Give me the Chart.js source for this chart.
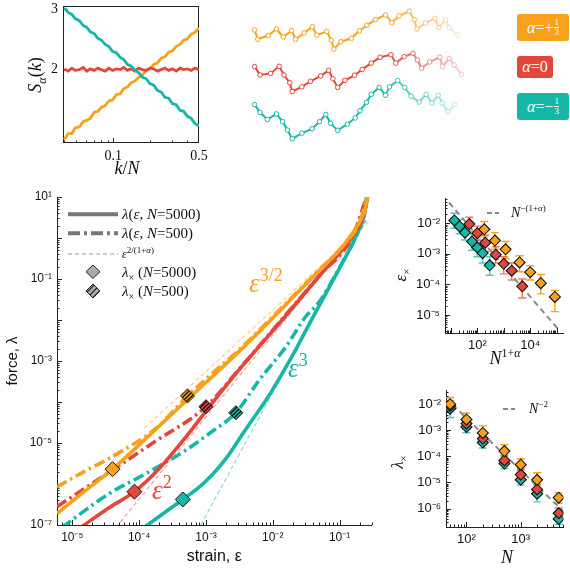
<!DOCTYPE html>
<html>
<head>
<meta charset="utf-8">
<script src="https://cdn.jsdelivr.net/npm/chart.js@4.4.1/dist/chart.umd.min.js"></script>
<style>
  body { margin: 0; background: #fff; }
  #page { position: relative; width: 570px; height: 570px; overflow: hidden; font-family: "Liberation Serif", serif; color: #111; }
  canvas { position: absolute; }
  .tx { position: absolute; white-space: nowrap; line-height: 1; }
  .tag { position: absolute; border-radius: 3px; color: #fff; display: flex; align-items: center; justify-content: center; font-size: 16px; }
  .fr { display: inline-flex; flex-direction: column; font-size: 9px; line-height: 9px; margin-left: 1px; vertical-align: middle; text-align: center; }
  .fr span:first-child { border-bottom: 1px solid #fff; }
  .lg { position: absolute; left: 122px; height: 16px; line-height: 16px; font-size: 15px; white-space: nowrap; }
  .rot { position: absolute; text-align: center; transform: rotate(-90deg); white-space: nowrap; }
  sub, sup { line-height: 0; }
</style>
</head>
<body>
<div id="page">
  <canvas id="spec" width="215" height="180" style="left:0;top:0"></canvas>
  <canvas id="chains" width="240" height="150" style="left:240px;top:0"></canvas>
  <canvas id="main" width="380" height="390" style="left:0;top:180px"></canvas>
  <canvas id="epsx" width="180" height="190" style="left:390px;top:180px"></canvas>
  <canvas id="lamx" width="180" height="190" style="left:390px;top:380px"></canvas>

  <div class="tag" style="left:517px;top:14px;width:52px;height:27px;background:#f9a11b"><i>α</i>=+<span class="fr"><span>1</span><span>3</span></span></div>
  <div class="tag" style="left:517px;top:56px;width:36px;height:22px;background:#e3463b"><i>α</i>=0</div>
  <div class="tag" style="left:517px;top:93px;width:52px;height:27px;background:#16b7a6"><i>α</i>=−<span class="fr"><span>1</span><span>3</span></span></div>

  <div class="rot" style="left:5px;top:63px;width:60px;height:24px;line-height:24px;font-size:18px"><i>S</i><sub style="font-size:12px"><i>α</i></sub>(<i>k</i>)</div>
  <div class="tx" style="left:97px;top:159px;width:60px;text-align:center;font-size:18px"><i>k</i>/<i>N</i></div>

  <svg style="position:absolute;left:66px;top:205px" width="56" height="96">
    <defs>
      <pattern id="hp" width="4" height="4" patternUnits="userSpaceOnUse" patternTransform="rotate(45)">
        <rect width="4" height="4" fill="#aaa"/><line x1="0" y1="0" x2="0" y2="4" stroke="#111" stroke-width="2"/>
      </pattern>
    </defs>
    <line x1="2" y1="9.3" x2="52" y2="9.3" stroke="#777" stroke-width="4"/>
    <line x1="2" y1="28.3" x2="52" y2="28.3" stroke="#777" stroke-width="4" stroke-dasharray="12 4 3 4"/>
    <line x1="2" y1="49" x2="52" y2="49" stroke="#999" stroke-width="1.2" stroke-dasharray="4 3"/>
    <polygon points="27,60 34,66.7 27,73.4 20,66.7" fill="#aaa" stroke="#222" stroke-width="1"/>
    <polygon points="27,79 34,86 27,93 20,86" fill="url(#hp)" stroke="#222" stroke-width="1"/>
  </svg>
  <div class="lg" style="top:206px"><i>λ</i>(<i>ε</i>, <i>N</i>=5000)</div>
  <div class="lg" style="top:225px"><i>λ</i>(<i>ε</i>, <i>N</i>=500)</div>
  <div class="lg" style="top:246px;font-size:12px"><i>ε</i><sup style="font-size:9px">2/(1+<i>α</i>)</sup></div>
  <div class="lg" style="top:264px"><i>λ</i><sub style="font-size:10px">×</sub> (<i>N</i>=5000)</div>
  <div class="lg" style="top:283px"><i>λ</i><sub style="font-size:10px">×</sub> (<i>N</i>=500)</div>

  <div class="tx" style="left:249px;top:270px;font-size:27px;color:#f9a11b"><i>ε</i><span style="font-size:18px;position:relative;top:-11px">3/2</span></div>
  <div class="tx" style="left:288px;top:355px;font-size:27px;color:#16b7a6"><i>ε</i><span style="font-size:18px;position:relative;top:-11px">3</span></div>
  <div class="tx" style="left:152px;top:477px;font-size:27px;color:#e3463b"><i>ε</i><span style="font-size:18px;position:relative;top:-11px">2</span></div>

  <svg style="position:absolute;left:487px;top:209px" width="12" height="8"><line x1="0" y1="4" x2="12" y2="4" stroke="#888" stroke-width="2" stroke-dasharray="5 3"/></svg>
  <div class="tx" style="left:511px;top:206px;font-size:14px"><i>N</i><sup style="font-size:9px">−(1+<i>α</i>)</sup></div>
  <div class="rot" style="left:371px;top:264px;width:60px;height:22px;line-height:22px;font-size:17px"><i>ε</i><sub style="font-size:11px">×</sub></div>
  <div class="tx" style="left:465px;top:349px;width:80px;text-align:center;font-size:18px"><i>N</i><sup style="font-size:12px">1+<i>α</i></sup></div>

  <svg style="position:absolute;left:503px;top:405px" width="12" height="8"><line x1="0" y1="4" x2="12" y2="4" stroke="#888" stroke-width="2" stroke-dasharray="5 3"/></svg>
  <div class="tx" style="left:529px;top:402px;font-size:14px"><i>N</i><sup style="font-size:9px">−2</sup></div>
  <div class="rot" style="left:368px;top:451px;width:60px;height:22px;line-height:22px;font-size:17px"><i>λ</i><sub style="font-size:11px">×</sub></div>
  <div class="tx" style="left:477px;top:548px;width:60px;text-align:center;font-size:18px"><i>N</i></div>
</div>

<script>
// ---- colours
const C_OR = '#f9a11b', C_RD = '#e3463b', C_CY = '#16b7a6';

// ---- top-left: S_alpha(k) vs k/N
const kOverN = [0.040, 0.043, 0.046, 0.049, 0.053, 0.057, 0.061, 0.065, 0.070, 0.075, 0.080, 0.086, 0.092, 0.099, 0.106, 0.114, 0.122, 0.131, 0.140, 0.150, 0.161, 0.173, 0.186, 0.199, 0.214, 0.229, 0.246, 0.264, 0.283, 0.304, 0.326, 0.350, 0.375, 0.402, 0.432, 0.463, 0.500];
const sOrange = [1.25, 1.30, 1.30, 1.35, 1.36, 1.41, 1.42, 1.44, 1.50, 1.51, 1.55, 1.57, 1.62, 1.63, 1.69, 1.70, 1.76, 1.78, 1.83, 1.85, 1.90, 1.93, 1.99, 2.01, 2.07, 2.09, 2.16, 2.18, 2.25, 2.27, 2.34, 2.37, 2.44, 2.46, 2.54, 2.57, 2.65];
const sRed = [2.01, 1.98, 2.02, 1.99, 2.00, 2.03, 1.98, 2.01, 1.99, 2.02, 2.00, 1.98, 2.02, 1.99, 2.01, 2.00, 2.03, 1.99, 2.01, 1.98, 2.02, 2.00, 1.99, 2.02, 2.01, 1.98, 2.00, 2.02, 1.99, 2.01, 1.98, 2.02, 2.00, 2.01, 1.99, 2.02, 2.00];
const sCyan = [3.03, 2.94, 2.90, 2.82, 2.78, 2.69, 2.66, 2.58, 2.55, 2.47, 2.44, 2.37, 2.34, 2.26, 2.24, 2.17, 2.14, 2.07, 2.05, 1.99, 1.96, 1.90, 1.88, 1.82, 1.80, 1.74, 1.72, 1.66, 1.65, 1.59, 1.58, 1.52, 1.51, 1.46, 1.44, 1.39, 1.37];

// ---- top-middle: chain snapshots (bead x along chain, bead height)
const chainOrangeX = [0, 3.3, 14.3, 22.7, 30, 38.7, 42.7, 51.7, 60.3, 65, 75.3, 80, 82.7, 90, 101, 109.3, 117.3, 126, 136.7, 143.3, 150.7, 161.3, 166.7, 169.3, 178.3, 188.3, 192.3, 199.3, 203.3, 212.3];
const chainOrangeY = [123.3, 113.3, 117.3, 124.3, 115.7, 122.7, 113.3, 120, 126.7, 117.7, 121.7, 112.3, 102.7, 110.7, 114.3, 122.3, 128.3, 134.3, 139.3, 131, 138.3, 143.3, 134.3, 124.3, 130.7, 135.7, 125.7, 134, 126, 117.7];
const chainRedX = [0, 5.7, 16.7, 25.7, 30.7, 36.7, 39.3, 49.3, 58.3, 69, 77.3, 81.7, 86.7, 94.3, 104.3, 112.3, 121.7, 131, 142.3, 147.3, 156, 165.3, 170, 174.3, 182.7, 193.3, 196, 203.3, 208.3, 216];
const chainRedY = [84, 75, 76.7, 84.3, 75, 66.7, 57.3, 62.3, 68.3, 74, 80, 71, 61.7, 69.3, 74.7, 81, 87.7, 94, 96.7, 87.7, 94.7, 98.3, 91, 82.3, 89, 94, 84.3, 92.7, 85.7, 75.7];
const chainCyanX = [0, 5.7, 13.3, 22.7, 29.3, 34.3, 39.3, 49.3, 60, 67.7, 74.3, 79.3, 86.7, 96.7, 105, 110, 116.7, 121.7, 130, 136.7, 140.7, 149.3, 156.7, 163.3, 171.7, 179, 185, 191.7, 195.7, 201.7, 209];
const chainCyanY = [43.3, 35, 27.3, 33.3, 25, 16, 6.7, 12.7, 17.3, 25, 32.7, 23.3, 15.7, 22.3, 29, 36.7, 45.7, 54.3, 61.7, 53.3, 62.3, 69, 61.7, 52.3, 46, 54.3, 45, 53.3, 45, 35.7, 43.3];

// ---- main panel: force vs strain
const strainOrange5000 = [5.9e-6, 1.5e-5, 4e-5, 1e-4, 5.3e-4, 3e-3, 0.0138, 0.0436, 0.109, 0.16, 0.206, 0.24, 0.27];
const forceOrange5000 = [1.9e-7, 6.5e-7, 2.3e-6, 9e-6, 1.15e-4, 1.6e-3, 0.019, 0.13, 0.6, 1.4, 2.75, 5, 14];
const strainRed5000 = [1.2e-5, 3.5e-5, 8.5e-5, 2e-4, 5e-4, 1.2e-3, 3.1e-3, 0.0138, 0.049, 0.155, 0.21, 0.245, 0.27];
const forceRed5000 = [7.7e-8, 2.6e-7, 6.5e-7, 2.4e-6, 1.4e-5, 8.8e-5, 6e-4, 0.01, 0.115, 1.07, 2.5, 5.5, 14];
const strainCyan5000 = [1.1e-4, 2.5e-4, 4.5e-4, 8e-4, 1.25e-3, 2e-3, 3.1e-3, 5e-3, 7.9e-3, 0.0194, 0.039, 0.08, 0.12, 0.18, 0.23, 0.27];
const forceCyan5000 = [8e-8, 2.1e-7, 4.2e-7, 8.5e-7, 1.7e-6, 4.2e-6, 1.2e-5, 3.8e-5, 1.1e-4, 1.3e-3, 0.011, 0.095, 0.32, 1.2, 3.2, 14];
const strainOrange500 = [5.9e-6, 1.5e-5, 4e-5, 1.8e-4, 5.3e-4, 1.5e-3, 3e-3, 0.0138, 0.0436, 0.109, 0.206, 0.27];
const forceOrange500 = [8.5e-7, 2.0e-6, 4.7e-6, 2.3e-5, 1.4e-4, 6.5e-4, 1.75e-3, 0.0205, 0.135, 0.62, 2.8, 14];
const strainRed500 = [5.9e-6, 4e-5, 1.6e-4, 1e-3, 3.1e-3, 0.0138, 0.049, 0.155, 0.27];
const forceRed500 = [2.8e-7, 2.2e-6, 1.0e-5, 7.7e-5, 6.2e-4, 0.0105, 0.118, 1.08, 14];
const strainCyan500 = [7.0e-6, 3.6e-5, 1.27e-4, 5e-4, 1.2e-3, 2.8e-3, 6.25e-3, 0.0156, 0.031, 0.05, 0.08, 0.12, 0.18, 0.27];
const forceCyan500 = [8.8e-8, 5.9e-7, 1.8e-6, 6.7e-6, 1.85e-5, 5.5e-5, 3.4e-4, 2.2e-3, 0.012, 0.028, 0.1, 0.33, 1.22, 14];
// power-law guides eps^(2/(1+alpha)), end points
const guideOrangeX = [1.2e-4, 0.27], guideOrangeY = [2.3e-5, 2.46];
const guideRedX = [4.5e-5, 0.25], guideRedY = [8.7e-8, 2.69];
const guideCyanX = [7.5e-4, 0.25], guideCyanY = [7.2e-8, 2.66];
// crossover points lambda_x
const crossStrain5000 = [4e-5, 8.5e-5, 4.5e-4], crossForce5000 = [2.3e-6, 6.5e-7, 4.2e-7];
const crossStrain500 = [5.3e-4, 1e-3, 2.8e-3], crossForce500 = [1.4e-4, 7.7e-5, 5.5e-5];

// ---- right top: eps_x vs N^(1+alpha)
const nPowCyan = [13.6, 21.5, 34.2, 63.0, 100, 158.7, 292.4];
const nPowRed = [50, 100, 200, 500, 1000, 2000, 5000];
const nPowOrange = [184.2, 464.2, 1169.6, 3968.5, 10000, 25198, 85499];
const epsCyan = [0.0122, 0.0078, 0.0049, 0.0025, 0.0016, 0.00105, 0.00042];
const epsCyanHi = [0.021, 0.013, 0.0085, 0.0045, 0.003, 0.0019, 0.0008];
const epsCyanLo = [0.0068, 0.0045, 0.0028, 0.0013, 0.0008, 0.0005, 0.0002];
const epsRed = [0.0093, 0.0047, 0.0023, 0.00093, 0.00047, 0.00028, 8.7e-5];
const epsRedHi = [0.0155, 0.008, 0.004, 0.0017, 0.0008, 0.0005, 0.00015];
const epsRedLo = [0.0055, 0.0027, 0.0012, 0.0005, 0.00022, 0.00014, 3.6e-5];
const epsOrange = [0.0063, 0.0027, 0.0014, 0.00052, 0.00025, 0.00011, 3.9e-5];
const epsOrangeHi = [0.0113, 0.0049, 0.0025, 0.00086, 0.00041, 0.00021, 6.3e-5];
const epsOrangeLo = [0.0035, 0.0014, 0.0007, 0.00026, 0.00014, 4.9e-5, 1.3e-5];
const epsGuideX = [8.5, 1.2e5], epsGuideY = [0.047, 3.3e-6];

// ---- right bottom: lambda_x vs N
const sizesN = [50, 100, 200, 500, 1000, 2000, 5000];
const lamOrange = [1.0e-2, 2.6e-3, 7.9e-4, 1.6e-4, 4.8e-5, 1.26e-5, 2.6e-6];
const lamOrangeHi = [1.8e-2, 4.6e-3, 1.47e-3, 2.8e-4, 8.1e-5, 2.35e-5, 4.0e-6];
const lamOrangeLo = [6.2e-3, 1.6e-3, 4.9e-4, 1.0e-4, 3.0e-5, 7.9e-6, 1.6e-6];
const lamRed = [8.6e-3, 1.8e-3, 4.8e-4, 7.0e-5, 2.0e-5, 5.4e-6, 6.6e-7];
const lamRedHi = [1.4e-2, 2.9e-3, 7.7e-4, 1.1e-4, 3.2e-5, 8.6e-6, 1.05e-6];
const lamRedLo = [5.4e-3, 1.1e-3, 3.0e-4, 4.4e-5, 1.25e-5, 3.4e-6, 4.1e-7];
const lamCyan = [6.7e-3, 1.35e-3, 3.4e-4, 5.3e-5, 1.27e-5, 3.7e-6, 4.0e-7];
const lamCyanHi = [1.05e-2, 2.1e-3, 5.3e-4, 8.3e-5, 2.0e-5, 5.8e-6, 6.3e-7];
const lamCyanLo = [3.1e-3, 8.0e-4, 2.1e-4, 3.4e-5, 7.9e-6, 1.8e-6, 2.5e-7];
const lamGuideX = [55, 6100], lamGuideY = [9.6e-3, 7.8e-7];

// ---- helpers
const pts = (xs, ys) => xs.map((x, i) => ({ x, y: ys[i] }));
const rgba = (hex, a) => {
  const n = parseInt(hex.slice(1), 16);
  return `rgba(${n >> 16},${(n >> 8) & 255},${n & 255},${a})`;
};
const logTickList = (lo, hi) => {
  const out = [];
  for (let e = Math.floor(Math.log10(lo)); e <= Math.ceil(Math.log10(hi)); e++) {
    for (let m = 1; m < 10; m++) {
      const v = m * Math.pow(10, e);
      if (v >= lo * 0.999 && v <= hi * 1.001) out.push([v, m === 1 ? 5 : 2.5]);
    }
  }
  return out;
};
const hatch = (color) => {
  const c = document.createElement('canvas');
  c.width = 4; c.height = 4;
  const g = c.getContext('2d');
  g.fillStyle = color; g.fillRect(0, 0, 4, 4);
  g.strokeStyle = '#111'; g.lineWidth = 1.3;
  g.beginPath();
  g.moveTo(-1, 5); g.lineTo(5, -1);
  g.moveTo(-1, 1); g.lineTo(1, -1);
  g.moveTo(3, 5); g.lineTo(5, 3);
  g.stroke();
  return g.createPattern(c, 'repeat');
};

// inward tick marks, drawn by hand since Chart.js only draws outward ones
const inwardTicks = (spec, box) => ({
  id: 'inwardTicks',
  beforeDatasetsDraw(chart) {
    const { ctx, chartArea: a } = chart;
    ctx.save();
    ctx.strokeStyle = '#222';
    ctx.lineWidth = 1;
    for (const axis of Object.keys(spec)) {
      const s = chart.scales[axis];
      for (const [v, len] of spec[axis]) {
        const p = Math.round(s.getPixelForValue(v)) + 0.5;
        ctx.beginPath();
        if (axis === 'x') { ctx.moveTo(p, a.bottom); ctx.lineTo(p, a.bottom - len); }
        else { ctx.moveTo(a.left, p); ctx.lineTo(a.left + len, p); }
        ctx.stroke();
      }
    }
    if (box) ctx.strokeRect(a.left + 0.5, a.top + 0.5, a.right - a.left - 1, a.bottom - a.top - 1);
    ctx.restore();
  }
});

const errorBars = {
  id: 'errorBars',
  beforeDatasetsDraw(chart) {
    const { ctx } = chart;
    const xs = chart.scales.x, ys = chart.scales.y;
    chart.data.datasets.forEach(ds => {
      if (!ds.errLo) return;
      ctx.save();
      ctx.strokeStyle = ds.errColor;
      ctx.lineWidth = 1.4;
      ds.data.forEach((p, i) => {
        const x = xs.getPixelForValue(p.x);
        const y1 = ys.getPixelForValue(ds.errLo[i]), y2 = ys.getPixelForValue(ds.errHi[i]);
        ctx.beginPath();
        ctx.moveTo(x, y1); ctx.lineTo(x, y2);
        ctx.moveTo(x - 4, y1); ctx.lineTo(x + 4, y1);
        ctx.moveTo(x - 4, y2); ctx.lineTo(x + 4, y2);
        ctx.stroke();
      });
      ctx.restore();
    });
  }
};

const logAxis = (min, max, vals, text, font, fit, extra) => Object.assign({
  type: 'logarithmic', min, max, bounds: 'data',
  grid: { display: false, drawTicks: false },
  border: { display: true, color: '#222', width: 1 },
  afterBuildTicks: s => { s.ticks = vals.map(v => ({ value: v })); },
  ticks: { autoSkip: false, maxRotation: 0, padding: 5, color: '#111', font, callback: (v, i) => text[i] },
  afterFit: fit
}, extra || {});
const fitW = w => s => { s.width = w; s.paddingTop = 0; s.paddingBottom = 0; };
const fitH = h => s => { s.height = h; s.paddingLeft = 0; s.paddingRight = 0; };

const base = {
  animation: false, responsive: false, events: [],
  plugins: { legend: { display: false }, tooltip: { enabled: false } }
};

// ---- top-left chart
const noisy = (ys, color) => ({
  data: pts(kOverN, ys), showLine: true, borderColor: color, borderWidth: 2.8, pointRadius: 0
});
new Chart(document.getElementById('spec'), {
  type: 'scatter',
  data: { datasets: [noisy(sCyan, C_CY), noisy(sRed, C_RD), noisy(sOrange, C_OR)] },
  options: Object.assign({}, base, {
    layout: { padding: { top: 6, right: 16, left: 0, bottom: 0 } },
    scales: {
      x: logAxis(0.039, 0.5, [0.1, 0.5], ['0.1', '0.5'], { family: 'Liberation Serif', size: 14 }, fitH(37), { border: { display: false } }),
      y: logAxis(1.22, 3.07, [2, 3], ['2', '3'], { family: 'Liberation Serif', size: 14 }, fitW(63), { border: { display: false } })
    }
  }),
  plugins: [inwardTicks({ x: logTickList(0.039, 0.49), y: [[2, 5], [3, 5]] }, true)]
});

// ---- chain snapshots
const fade = (hex, i, n) => {
  const t = i / (n - 1);
  return rgba(hex, t < 0.6 ? 1 : 1 - 0.75 * (t - 0.6) / 0.4);
};
const chain = (xs, ys, color) => ({
  data: pts(xs, ys), showLine: true, borderWidth: 2, borderColor: color,
  segment: { borderColor: c => fade(color, c.p1DataIndex, xs.length) },
  pointRadius: 2.3, pointBorderWidth: 1, pointBackgroundColor: '#fff',
  pointBorderColor: c => fade(color, c.dataIndex, xs.length)
});
new Chart(document.getElementById('chains'), {
  type: 'scatter',
  data: { datasets: [chain(chainOrangeX, chainOrangeY, C_OR), chain(chainRedX, chainRedY, C_RD), chain(chainCyanX, chainCyanY, C_CY)] },
  options: Object.assign({}, base, {
    layout: { padding: 0 },
    scales: { x: { type: 'linear', display: false, min: -10, max: 230 }, y: { type: 'linear', display: false, min: 0, max: 150 } }
  })
});

// ---- main chart
const curve = (xs, ys, color, order, dash) => ({
  data: pts(xs, ys), showLine: true, borderColor: color, borderWidth: 3.6, borderDash: dash || [],
  pointRadius: 0, cubicInterpolationMode: 'monotone', order
});
const guide = (xs, ys, color) => ({
  data: pts(xs, ys), showLine: true, borderColor: rgba(color, 0.55), borderWidth: 1.1,
  borderDash: [4, 3], pointRadius: 0, order: 20
});
const dashDot = [11, 4, 2.5, 4];
new Chart(document.getElementById('main'), {
  type: 'scatter',
  data: {
    datasets: [
      { data: pts(crossStrain5000, crossForce5000), pointStyle: 'rectRot', pointRadius: 7.5,
        pointBackgroundColor: [C_OR, C_RD, C_CY], pointBorderColor: '#111', pointBorderWidth: 1, order: 0 },
      { data: pts(crossStrain500, crossForce500), pointStyle: 'rectRot', pointRadius: 7,
        pointBackgroundColor: [hatch(C_OR), hatch(C_RD), hatch(C_CY)], pointBorderColor: '#111', pointBorderWidth: 1, order: 0 },
      curve(strainOrange5000, forceOrange5000, C_OR, 2),
      curve(strainOrange500, forceOrange500, C_OR, 3, dashDot),
      curve(strainRed5000, forceRed5000, C_RD, 4),
      curve(strainRed500, forceRed500, C_RD, 5, dashDot),
      curve(strainCyan5000, forceCyan5000, C_CY, 6),
      curve(strainCyan500, forceCyan500, C_CY, 7, dashDot),
      guide(guideOrangeX, guideOrangeY, C_OR),
      guide(guideRedX, guideRedY, C_RD),
      guide(guideCyanX, guideCyanY, C_CY)
    ]
  },
  options: Object.assign({}, base, {
    layout: { padding: { top: 17, right: 7, left: 0, bottom: 0 } },
    scales: {
      x: logAxis(5.9e-6, 0.3, [1e-5, 1e-4, 1e-3, 1e-2, 1e-1], ['10⁻⁵', '10⁻⁴', '10⁻³', '10⁻²', '10⁻¹'],
        { family: 'Liberation Sans', size: 12 }, fitH(45),
        { title: { display: true, text: 'strain, ε', color: '#111', font: { family: 'Liberation Sans', size: 16 }, padding: { top: 0, bottom: 4 } } }),
      y: logAxis(1e-7, 10, [1e-7, 1e-5, 1e-3, 1e-1, 10], ['10⁻⁷', '10⁻⁵', '10⁻³', '10⁻¹', '10¹'],
        { family: 'Liberation Sans', size: 12 }, fitW(57),
        { title: { display: true, text: 'force, λ', color: '#111', font: { family: 'Liberation Sans', size: 15 }, padding: { top: 4, bottom: 0 } } })
    }
  }),
  plugins: [inwardTicks({ x: logTickList(5.9e-6, 0.3), y: logTickList(1e-7, 10) })]
});

// ---- right panels
const diam = (xs, ys, color, lo, hi, barColor, order) => ({
  data: pts(xs, ys), pointStyle: 'rectRot', pointRadius: 5.5, pointBackgroundColor: color,
  pointBorderColor: '#111', pointBorderWidth: 1.1, errLo: lo, errHi: hi, errColor: barColor, order
});
const grayGuide = (xs, ys) => ({
  data: pts(xs, ys), showLine: true, borderColor: '#8a8a8a', borderWidth: 2, borderDash: [6, 4], pointRadius: 0, order: 10
});
new Chart(document.getElementById('epsx'), {
  type: 'scatter',
  data: {
    datasets: [
      diam(nPowOrange, epsOrange, C_OR, epsOrangeLo, epsOrangeHi, C_OR, 1),
      diam(nPowRed, epsRed, C_RD, epsRedLo, epsRedHi, rgba(C_RD, 0.75), 2),
      diam(nPowCyan, epsCyan, C_CY, epsCyanLo, epsCyanHi, rgba(C_CY, 0.75), 3),
      grayGuide(epsGuideX, epsGuideY)
    ]
  },
  options: Object.assign({}, base, {
    layout: { padding: { top: 18, right: 3, left: 0, bottom: 0 } },
    scales: {
      x: logAxis(6, 1.8e5, [10, 100, 1000, 1e4, 1e5], ['', '10²', '', '10⁴', ''], { family: 'Liberation Sans', size: 13 }, fitH(37)),
      y: logAxis(2.6e-6, 0.066, [1e-5, 1e-4, 1e-3, 1e-2], ['10⁻⁵', '10⁻⁴', '10⁻³', '10⁻²'], { family: 'Liberation Sans', size: 13 }, fitW(55))
    }
  }),
  plugins: [errorBars, inwardTicks({ x: logTickList(6, 1.8e5), y: logTickList(2.6e-6, 0.066) })]
});

new Chart(document.getElementById('lamx'), {
  type: 'scatter',
  data: {
    datasets: [
      diam(sizesN, lamOrange, C_OR, lamOrangeLo, lamOrangeHi, C_OR, 1),
      diam(sizesN, lamRed, C_RD, lamRedLo, lamRedHi, rgba(C_RD, 0.75), 2),
      diam(sizesN, lamCyan, C_CY, lamCyanLo, lamCyanHi, rgba(C_CY, 0.75), 3),
      grayGuide(lamGuideX, lamGuideY)
    ]
  },
  options: Object.assign({}, base, {
    layout: { padding: { top: 10, right: 0, left: 0, bottom: 0 } },
    scales: {
      x: logAxis(42, 6100, [100, 1000], ['10²', '10³'], { family: 'Liberation Sans', size: 13 }, fitH(43)),
      y: logAxis(1.96e-7, 0.035, [1e-6, 1e-5, 1e-4, 1e-3, 1e-2], ['10⁻⁶', '10⁻⁵', '10⁻⁴', '10⁻³', '10⁻²'], { family: 'Liberation Sans', size: 13 }, fitW(56))
    }
  }),
  plugins: [errorBars, inwardTicks({ x: logTickList(42, 6100), y: logTickList(1.96e-7, 0.035) })]
});
</script>
</body>
</html>
